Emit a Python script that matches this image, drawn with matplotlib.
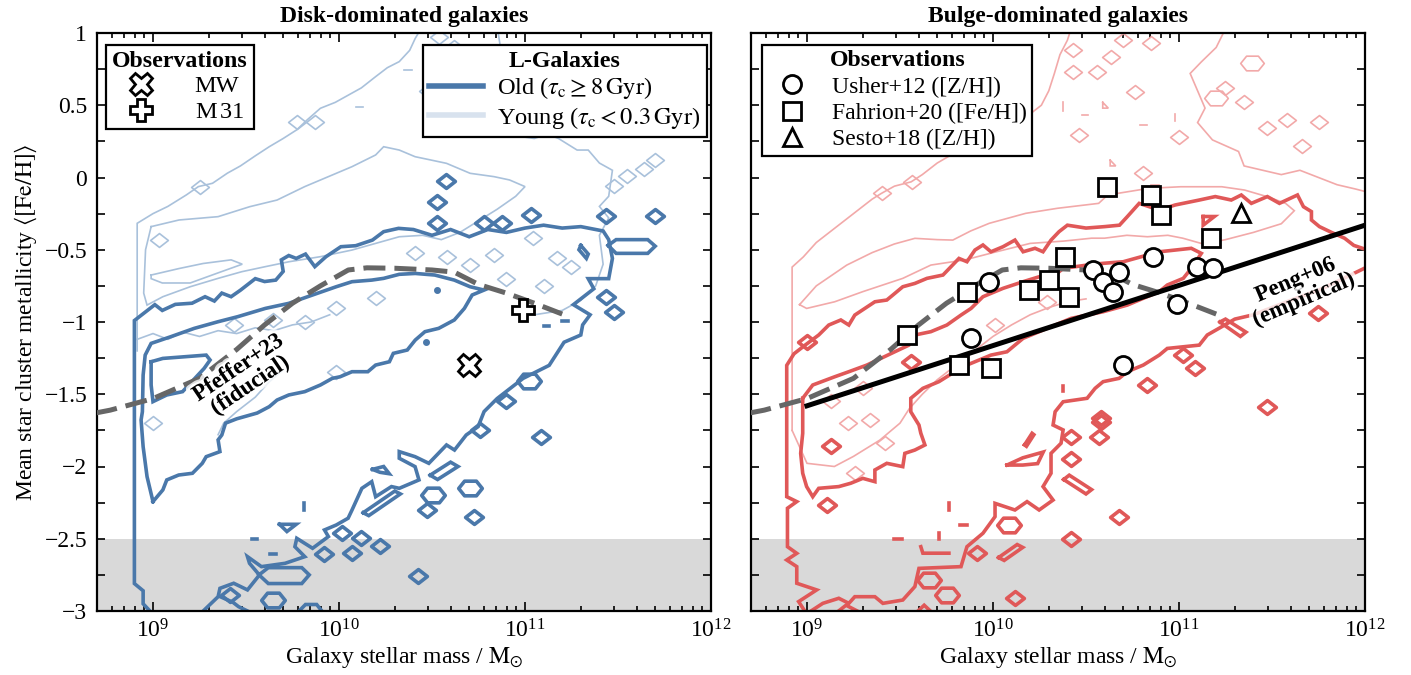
import numpy as np
import matplotlib
matplotlib.use("Agg")
import matplotlib.pyplot as plt
from matplotlib.path import Path
from matplotlib.lines import Line2D
from matplotlib.ticker import MultipleLocator, FuncFormatter, LogLocator
import matplotlib.patheffects as pe

plt.rcParams['font.family'] = ['Liberation Serif', 'DejaVu Serif']
plt.rcParams['mathtext.fontset'] = 'stix'
plt.rcParams['font.size'] = 8

# ---------------- data (log10 M*, <[Fe/H]>) ----------------
pfeffer_logm = [8.69, 8.77, 9.0, 9.25, 9.45, 9.6, 9.75, 9.9, 10.05, 10.15, 10.3, 10.5, 10.62, 10.75, 10.9, 11.05, 11.2]
pfeffer_feh = [-1.63, -1.61, -1.53, -1.39, -1.19, -1.02, -0.87, -0.75, -0.64, -0.625, -0.628, -0.64, -0.655, -0.74, -0.80, -0.87, -0.945]

peng_logm = [9.0, 12.0]
peng_feh = [-1.58, -0.33]

mw_logm, mw_feh = [10.70], [-1.30]
m31_logm, m31_feh = [10.99], [-0.92]

usher_logm = [9.978, 9.882, 10.538, 10.592, 10.646, 10.678, 10.862, 10.991, 11.098, 11.185, 10.70]
usher_feh = [-0.721, -1.113, -0.64, -0.721, -0.79, -0.652, -0.548, -0.876, -0.617, -0.629, -1.298]
fahrion_logm = [9.86, 9.537, 9.817, 9.989, 10.194, 10.302, 10.388, 10.409, 11.174, 10.614, 10.851, 10.905]
fahrion_feh = [-0.79, -1.09, -1.298, -1.321, -0.779, -0.71, -0.548, -0.825, -0.421, -0.063, -0.121, -0.259]
sesto_logm, sesto_feh = [11.335], [-0.243]

# disk-dominated, old clusters (thick contours)
disk_old_outer = [(8.998, -3.02), (8.947, -2.95), (8.947, -2.86), (8.90, -2.81), (8.90, -0.99),
    (9.01, -0.88), (9.05, -0.92), (9.12, -0.878), (9.21, -0.87), (9.28, -0.825), (9.33, -0.855),
    (9.37, -0.80), (9.42, -0.825), (9.47, -0.78), (9.55, -0.70), (9.60, -0.72), (9.66, -0.71),
    (9.70, -0.65), (9.69, -0.57), (9.73, -0.54), (9.77, -0.56), (9.82, -0.53), (9.87, -0.617),
    (9.93, -0.548), (10.01, -0.479), (10.09, -0.472), (10.18, -0.433), (10.24, -0.375),
    (10.32, -0.352), (10.40, -0.36), (10.50, -0.40), (10.60, -0.36), (10.70, -0.41), (10.80, -0.36),
    (10.90, -0.38), (11.0, -0.35), (11.1, -0.33), (11.2, -0.35), (11.3, -0.34), (11.42, -0.37),
    (11.45, -0.43), (11.47, -0.56), (11.45, -0.70), (11.34, -0.70), (11.37, -0.77), (11.26, -0.88),
    (11.35, -0.95), (11.31, -1.02), (11.30, -1.09), (11.21, -1.14), (11.17, -1.22), (11.13, -1.30),
    (10.99, -1.39), (10.85, -1.53), (10.78, -1.62), (10.748, -1.724), (10.684, -1.782),
    (10.621, -1.886), (10.578, -1.851), (10.483, -1.978), (10.409, -1.932), (10.324, -1.897),
    (10.324, -1.943), (10.409, -2.001), (10.43, -2.093), (10.324, -2.151), (10.282, -2.139),
    (10.197, -2.209), (10.176, -2.105), (10.123, -2.151), (10.07, -2.301), (10.049, -2.358),
    (9.985, -2.405), (9.922, -2.439), (9.943, -2.485), (9.858, -2.566), (9.773, -2.497),
    (9.763, -2.555), (9.816, -2.624), (9.71, -2.67), (9.583, -2.693), (9.508, -2.624),
    (9.519, -2.67), (9.572, -2.751), (9.508, -2.854), (9.434, -2.808), (9.36, -2.843),
    (9.35, -2.901), (9.254, -3.02)]
disk_old_inner = [(9.0, -2.243), (8.968, -2.07), (8.947, -1.863), (8.936, -1.678), (8.943, -1.621),
    (8.947, -1.367), (8.958, -1.229), (8.99, -1.148), (9.095, -1.102), (9.222, -1.044), (9.35, -0.998),
    (9.456, -0.963), (9.604, -0.906), (9.73, -0.871), (9.858, -0.813), (9.985, -0.756), (10.07, -0.721),
    (10.176, -0.71), (10.24, -0.698), (10.324, -0.67), (10.41, -0.664), (10.515, -0.675), (10.62, -0.71),
    (10.705, -0.756), (10.78, -0.779), (10.716, -0.813), (10.674, -0.906), (10.62, -0.986),
    (10.536, -1.044), (10.462, -1.067), (10.41, -1.125), (10.367, -1.194), (10.292, -1.217),
    (10.271, -1.275), (10.197, -1.298), (10.155, -1.344), (10.07, -1.344), (10.006, -1.379),
    (9.964, -1.39), (9.90, -1.436), (9.816, -1.482), (9.73, -1.505), (9.667, -1.54), (9.625, -1.586),
    (9.56, -1.63), (9.45, -1.67), (9.39, -1.70), (9.37, -1.782), (9.35, -1.816), (9.36, -1.897),
    (9.286, -1.932), (9.265, -1.978), (9.212, -2.047), (9.138, -2.059), (9.074, -2.093),
    (9.053, -2.162), (9.0, -2.243)]
disk_old_core = [(8.99, -1.275), (9.053, -1.252), (9.286, -1.229), (9.307, -1.263), (9.275, -1.321),
    (9.159, -1.482), (9.074, -1.505), (9.0, -1.551), (8.99, -1.436), (8.99, -1.275)]
disk_old_pieces = [
    [(11.447, -0.47), (11.49, -0.43), (11.66, -0.43), (11.70, -0.475), (11.66, -0.525), (11.49, -0.525), (11.447, -0.47)],
    [(9.57, -2.75), (9.62, -2.70), (9.80, -2.70), (9.84, -2.75), (9.80, -2.81), (9.62, -2.81), (9.57, -2.75)],
    [(10.13, -2.32), (10.30, -2.17), (10.33, -2.19), (10.16, -2.34), (10.13, -2.32)],
    [(10.49, -2.06), (10.60, -1.97), (10.64, -2.00), (10.53, -2.09), (10.49, -2.06)],
    [(10.18, -2.02), (10.24, -2.00), (10.27, -2.05), (10.22, -2.04), (10.18, -2.02)],
    [(9.68, -2.40), (9.77, -2.40), (9.72, -2.45), (9.68, -2.40)],
    [(11.30, -0.47), (11.34, -0.53), (11.33, -0.56), (11.29, -0.50), (11.30, -0.47)],
    [(9.77, -3.02), (9.82, -2.955), (9.88, -2.955), (9.92, -3.02)],
    [(9.36, -2.90), (9.43, -2.94), (9.46, -2.97), (9.54, -3.02)],
    [(9.53, -2.50), (9.56, -2.50)], [(9.63, -2.605), (9.66, -2.605)], [(9.81, -2.25), (9.81, -2.30)],
    [(11.20, -0.99), (11.23, -0.99)], [(11.10, -1.03), (11.13, -1.03)]]
disk_old_diamonds = [(10.574, -0.022), (10.525, -0.172), (10.525, -0.312), (10.78, -0.317),
    (10.875, -0.317), (11.034, -0.259), (11.436, -0.264), (11.70, -0.264), (11.436, -0.825),
    (11.48, -0.93), (11.087, -1.793), (10.472, -2.301), (10.727, -2.352), (10.017, -2.458),
    (10.117, -2.497), (10.218, -2.55), (9.917, -2.605), (10.07, -2.60), (10.426, -2.755),
    (9.413, -2.889), (10.76, -1.75), (10.90, -1.55)]
disk_old_hexagons = [(10.705, -2.151), (10.504, -2.197), (9.646, -2.924), (11.02, -1.41)]
disk_old_dots = [(10.525, -0.78), (10.47, -1.136)]

# disk-dominated, young clusters (thin contours)
disk_young_lines = [
    [(8.915, -1.20), (8.915, -0.317), (9.0, -0.25), (9.08, -0.20), (9.18, -0.12), (9.244, -0.063),
     (9.32, -0.04), (9.40, 0.03), (9.47, 0.08), (9.55, 0.15), (9.625, 0.213), (9.70, 0.27), (9.773, 0.33),
     (9.83, 0.40), (9.90, 0.479), (9.98, 0.52), (10.05, 0.57), (10.12, 0.62), (10.197, 0.698),
     (10.26, 0.76), (10.324, 0.802), (10.38, 0.88), (10.41, 0.963), (10.45, 1.05)],
    [(10.85, 1.05), (10.88, 0.8), (10.92, 0.55), (10.96, 0.38), (10.98, 0.283), (11.05, 0.27),
     (11.12, 0.30), (11.18, 0.27), (11.28, 0.19), (11.34, 0.19), (11.40, 0.10), (11.47, 0.05),
     (11.45, -0.13), (11.40, -0.20), (11.45, -0.28), (11.40, -0.40), (11.42, -0.60), (11.38, -0.75),
     (11.30, -0.85), (11.20, -0.92), (11.05, -0.95)],
    [(8.99, -0.34), (9.14, -0.294), (9.35, -0.271), (9.52, -0.202), (9.667, -0.156), (9.816, -0.063),
     (9.943, 0.006), (10.07, 0.075), (10.197, 0.156), (10.24, 0.213), (10.324, 0.19), (10.409, 0.144),
     (10.494, 0.121), (10.578, 0.098), (10.705, 0.029), (10.833, 0.006), (10.917, -0.017), (11.0, -0.063),
     (10.95, -0.13), (10.85, -0.22), (10.75, -0.30), (10.65, -0.38), (10.55, -0.43), (10.45, -0.40),
     (10.324, -0.41), (10.197, -0.456), (10.07, -0.502), (9.90, -0.548), (9.731, -0.583), (9.604, -0.617),
     (9.477, -0.652), (9.35, -0.698), (9.20, -0.756), (9.053, -0.825), (8.968, -0.883), (8.95, -0.80),
     (8.96, -0.50), (8.99, -0.34)],
    [(8.99, -0.675), (9.14, -0.63), (9.27, -0.595), (9.42, -0.57), (9.48, -0.60), (9.35, -0.66),
     (9.20, -0.73), (9.05, -0.73), (8.99, -0.70), (8.99, -0.675)],
    [(8.915, -1.12), (9.0, -1.08), (9.08, -1.12), (9.16, -1.07), (9.25, -1.10), (9.35, -1.06),
     (9.45, -1.08), (9.55, -1.04), (9.65, -1.06), (9.75, -1.02), (9.85, -1.0), (9.95, -0.95)],
    [(9.35, -1.78), (9.38, -1.70), (9.45, -1.62), (9.55, -1.52), (9.62, -1.42), (9.70, -1.33)],
    [(10.09, 0.486), (10.13, 0.486)], [(10.35, 0.744), (10.39, 0.744)]]
disk_young_diamonds = [(11.045, -0.42), (10.833, -0.537), (10.705, -0.606), (10.58, -0.55),
    (11.17, -0.56), (10.41, -0.525), (11.48, -0.06), (11.55, 0.01), (11.64, 0.06), (11.70, 0.12),
    (10.536, 0.975), (10.62, 0.905), (9.773, 0.386), (9.869, 0.386), (9.254, -0.063), (9.03, -0.43),
    (9.0, -1.70), (9.434, -1.021), (9.646, -0.986), (9.816, -0.998), (9.985, -0.906), (10.197, -0.836),
    (9.985, -1.344), (10.48, 0.60), (10.60, 0.50), (11.10, -0.75), (11.25, -0.62), (10.90, -0.70)]

# bulge-dominated, old clusters (thick contours)
bulge_old_outer = [(8.998, -3.02), (8.955, -2.935), (9.052, -2.854), (8.945, -2.808), (8.945, -2.693),
    (8.891, -2.647), (8.945, -2.601), (8.895, -2.555), (8.895, -2.289), (8.945, -2.243), (8.891, -2.209),
    (8.891, -1.30), (8.93, -1.22), (8.99, -1.16), (9.063, -1.09), (9.117, -1.021), (9.182, -0.986),
    (9.225, -1.021), (9.257, -0.952), (9.365, -0.86), (9.429, -0.848), (9.462, -0.813), (9.515, -0.756),
    (9.58, -0.733), (9.645, -0.698), (9.731, -0.675), (9.817, -0.56), (9.86, -0.583), (9.903, -0.502),
    (9.946, -0.467), (9.989, -0.514), (10.054, -0.479), (10.118, -0.433), (10.162, -0.514),
    (10.226, -0.49), (10.269, -0.514), (10.312, -0.433), (10.355, -0.375), (10.40, -0.33),
    (10.50, -0.35), (10.60, -0.34), (10.68, -0.33), (10.722, -0.271), (10.786, -0.179),
    (10.894, -0.225), (10.98, -0.19), (11.109, -0.156), (11.195, -0.132), (11.281, -0.156),
    (11.335, -0.121), (11.389, -0.179), (11.475, -0.132), (11.54, -0.179), (11.637, -0.121),
    (11.669, -0.202), (11.712, -0.236), (11.712, -0.294), (11.755, -0.34), (11.82, -0.38),
    (11.89, -0.42), (11.94, -0.47), (12.01, -0.50)]
bulge_old_lower = [(12.01, -0.62), (11.93, -0.67), (11.85, -0.72), (11.75, -0.78), (11.62, -0.84),
    (11.50, -0.90), (11.40, -0.95), (11.30, -0.98), (11.22, -1.04), (11.152, -1.09), (11.109, -1.16),
    (10.937, -1.183), (10.894, -1.229), (10.808, -1.298), (10.722, -1.344), (10.678, -1.39),
    (10.592, -1.413), (10.549, -1.459), (10.506, -1.528), (10.377, -1.552), (10.334, -1.621),
    (10.323, -1.713), (10.377, -1.747), (10.366, -1.839), (10.312, -1.909), (10.312, -2.047),
    (10.269, -2.139), (10.323, -2.232), (10.248, -2.301), (10.183, -2.243), (10.118, -2.301),
    (10.011, -2.255), (10.011, -2.347), (9.946, -2.462), (9.86, -2.555), (9.828, -2.693),
    (9.602, -2.705), (9.58, -2.831), (9.515, -2.924), (9.408, -2.947), (9.365, -2.901),
    (9.257, -2.901), (9.225, -2.947), (9.171, -2.912), (9.085, -2.947), (8.998, -3.02)]
bulge_old_inner = [(8.977, -1.528), (9.031, -1.436), (9.149, -1.379), (9.225, -1.344), (9.322, -1.298),
    (9.397, -1.252), (9.472, -1.206), (9.548, -1.16), (9.58, -1.09), (9.666, -1.067), (9.752, -1.021),
    (9.828, -0.952), (9.882, -0.906), (9.946, -0.825), (10.054, -0.767), (10.162, -0.721),
    (10.248, -0.687), (10.334, -0.675), (10.377, -0.629), (10.506, -0.606), (10.592, -0.594),
    (10.70, -0.583), (10.829, -0.537), (10.894, -0.514), (10.98, -0.502), (11.066, -0.49),
    (11.12, -0.525), (11.066, -0.629), (11.023, -0.698), (10.937, -0.744), (10.894, -0.79),
    (10.808, -0.836), (10.722, -0.883), (10.592, -0.929), (10.506, -0.952), (10.42, -0.975),
    (10.334, -1.021), (10.248, -1.067), (10.162, -1.113), (10.118, -1.16), (10.075, -1.206),
    (9.989, -1.229), (9.86, -1.298), (9.795, -1.344), (9.709, -1.413), (9.623, -1.459),
    (9.558, -1.528), (9.558, -1.621), (9.602, -1.713), (9.612, -1.77), (9.634, -1.851), (9.58, -1.886),
    (9.526, -1.909), (9.515, -2.001), (9.429, -1.978), (9.365, -2.024), (9.365, -2.105), (9.30, -2.082),
    (9.235, -2.116), (9.171, -2.139), (9.063, -2.151), (9.031, -2.209), (8.998, -2.139),
    (8.977, -2.047), (8.966, -1.909), (8.977, -1.77), (8.977, -1.528)]
bulge_old_pieces = [
    [(10.38, -2.09), (10.41, -2.06), (10.53, -2.16), (10.50, -2.19), (10.38, -2.09)],
    [(10.03, -2.63), (10.13, -2.54), (10.16, -2.56), (10.06, -2.65), (10.03, -2.63)],
    [(10.17, -1.85), (10.21, -1.77), (10.22, -1.78), (10.18, -1.86), (10.17, -1.85)],
    [(10.075, -1.99), (10.16, -1.94), (10.27, -1.90), (10.24, -1.98), (10.16, -1.99), (10.075, -1.99)],
    [(9.612, -2.555), (9.623, -2.60), (9.763, -2.60)],
    [(11.22, -1.00), (11.25, -0.98), (11.36, -1.07), (11.33, -1.10), (11.22, -1.00)],
    [(11.13, -0.27), (11.19, -0.27), (11.13, -0.33), (11.13, -0.27)],
    [(9.58, -3.02), (9.63, -2.96), (9.68, -3.02)], [(9.15, -3.02), (9.21, -2.96), (9.30, -3.02)],
    [(9.763, -2.25), (9.763, -2.30)], [(9.82, -2.405), (9.86, -2.405)], [(9.709, -2.46), (9.709, -2.50)],
    [(9.47, -2.501), (9.51, -2.501)], [(10.377, -1.44), (10.377, -1.48)]]
bulge_old_diamonds = [(10.42, -1.793), (10.571, -1.793), (10.582, -1.69), (10.42, -1.95),
    (10.678, -2.347), (10.42, -2.504), (9.914, -2.601), (10.118, -2.912), (11.023, -1.229),
    (11.088, -1.321), (10.829, -1.436), (11.475, -1.586), (11.745, -0.94), (8.998, -1.136),
    (10.58, -1.667), (9.13, -1.86), (9.106, -2.266), (9.56, -1.28)]
bulge_old_hexagons = [(10.086, -2.405), (9.752, -2.889), (9.656, -2.785)]

# bulge-dominated, young clusters (thin contours)
bulge_young_lines = [
    [(8.92, -1.75), (8.92, -0.62), (8.98, -0.55), (9.05, -0.45), (9.12, -0.38), (9.20, -0.30),
     (9.28, -0.22), (9.35, -0.15), (9.40, -0.11), (9.47, -0.06), (9.56, -0.03), (9.62, 0.02),
     (9.70, 0.10), (9.78, 0.16), (9.85, 0.22), (9.95, 0.30), (10.1, 0.40), (10.21, 0.45), (10.26, 0.50),
     (10.30, 0.60), (10.33, 0.72), (10.36, 0.85), (10.40, 0.95), (10.42, 1.03)],
    [(11.25, 1.03), (11.20, 0.90), (11.12, 0.80), (11.06, 0.72), (11.10, 0.60), (11.14, 0.48),
     (11.10, 0.38), (11.18, 0.26), (11.25, 0.22), (11.32, 0.18), (11.35, 0.08), (11.45, 0.05),
     (11.55, 0.02), (11.65, 0.05), (11.75, 0.0), (11.85, -0.05), (11.95, -0.08), (12.01, -0.10)],
    [(8.92, -1.75), (9.0, -1.978), (9.147, -2.0), (9.25, -1.93), (9.392, -1.817), (9.5, -1.70),
     (9.55, -1.60), (9.62, -1.50), (9.70, -1.40), (9.80, -1.30), (9.90, -1.20), (10.0, -1.10),
     (10.1, -1.02), (10.2, -0.95), (10.3, -0.90), (10.4, -0.86), (10.5, -0.84)],
    [(8.96, -0.88), (9.05, -0.75), (9.214, -0.606), (9.35, -0.52), (9.47, -0.46), (9.58, -0.421),
     (9.70, -0.43), (9.784, -0.433), (9.88, -0.37), (9.98, -0.317), (10.176, -0.248), (10.347, -0.213),
     (10.568, -0.179), (10.617, -0.121), (10.837, -0.075), (11.009, -0.064), (11.23, -0.064),
     (11.353, -0.087), (11.475, -0.133), (11.573, -0.179), (11.62, -0.23), (11.55, -0.32),
     (11.40, -0.38), (11.25, -0.43), (11.13, -0.46), (11.02, -0.42), (10.94, -0.40), (10.83, -0.41),
     (10.72, -0.40), (10.60, -0.42), (10.53, -0.42), (10.38, -0.44), (10.20, -0.456), (10.0, -0.52),
     (9.85, -0.57), (9.666, -0.606), (9.515, -0.698), (9.30, -0.79), (9.149, -0.86), (8.998, -0.906),
     (8.96, -0.88)],
    [(10.377, 0.46), (10.377, 0.52)], [(10.48, 0.43), (10.51, 0.43)], [(10.98, 0.39), (10.98, 0.44)],
    [(10.79, 0.363), (10.83, 0.363)], [(10.85, -0.05), (10.89, -0.05)],
    [(10.59, 0.52), (10.62, 0.48), (10.59, 0.48), (10.59, 0.52)],
    [(10.63, 0.12), (10.66, 0.08), (10.63, 0.08), (10.63, 0.12)]]
bulge_young_diamonds = [(9.34, -1.68), (9.417, -1.84), (9.257, -2.047), (9.404, -0.109), (9.562, -0.029),
    (10.011, -1.021), (10.29, -0.86), (10.431, 0.882), (10.431, 0.733), (10.56, 0.733), (10.635, 0.836),
    (10.70, 0.95), (10.85, 0.93), (11.755, 0.386), (11.475, 0.34), (11.58, 0.40), (10.463, 0.294),
    (10.765, 0.594), (10.808, 0.029), (11.0, 0.283), (9.13, -1.55), (9.22, -1.70), (9.30, -1.46),
    (11.25, 0.62), (11.35, 0.52), (11.66, 0.22)]
bulge_young_hexagons = [(11.39, 0.79), (11.20, 0.55)]

# ---------------- style ----------------
blue_old, blue_young, blue_leg = '#4a78aa', '#a9c1db', '#d8e2ee'
red_old, red_young = '#e05858', '#f2a9a9'
lw_old, lw_young = 1.3, 0.6

diamond = Path([(-1, 0), (0, 0.78), (1, 0), (0, -0.78), (-1, 0)],
               [Path.MOVETO, Path.LINETO, Path.LINETO, Path.LINETO, Path.CLOSEPOLY])
hexagon = Path([(-1, 0), (-0.5, 0.62), (0.5, 0.62), (1, 0), (0.5, -0.62), (-0.5, -0.62), (-1, 0)],
               [Path.MOVETO] + [Path.LINETO] * 5 + [Path.CLOSEPOLY])


def line(ax, pts, **kw):
    x, y = zip(*pts)
    ax.plot(10 ** np.array(x), y, solid_joinstyle='miter', **kw)


def islands(ax, pts, marker, size, color, lw):
    x, y = zip(*pts)
    ax.plot(10 ** np.array(x), y, ls='none', marker=marker, ms=size, mfc='none',
            mec=color, mew=lw, zorder=2)


fig = plt.figure(figsize=(7.055, 3.375), dpi=200)
ax1 = fig.add_axes([97 / 1411, 64 / 675, 614 / 1411, 578 / 675])
ax2 = fig.add_axes([751 / 1411, 64 / 675, 614 / 1411, 578 / 675])

for ax in (ax1, ax2):
    ax.set_xscale('log')
    ax.set_xlim(5e8, 1e12)
    ax.set_ylim(-3, 1)
    ax.axhspan(-3, -2.5, color='#d9d9d9', lw=0, zorder=0)
    ax.xaxis.set_major_locator(LogLocator(base=10, numticks=10))
    ax.xaxis.set_minor_locator(LogLocator(base=10, subs=np.arange(2, 10), numticks=20))
    ax.yaxis.set_major_locator(MultipleLocator(0.5))
    ax.yaxis.set_minor_locator(MultipleLocator(0.25))
    ax.tick_params(which='both', direction='in', top=True, right=True, width=0.6, labelsize=8.5)
    ax.tick_params(axis='x', which='major', length=3.4, pad=3)
    ax.tick_params(axis='x', which='minor', length=1.9)
    ax.tick_params(axis='y', which='both', length=3.0)
    for s in ax.spines.values():
        s.set_linewidth(0.8)
    ax.set_xlabel(r'Galaxy stellar mass / $\mathrm{M}_{\odot}$', fontsize=8.5, labelpad=1)
    line(ax, list(zip(pfeffer_logm, pfeffer_feh)), color='#666666', lw=1.8,
         ls=(0, (4.4, 1.8)), zorder=3)

ax1.yaxis.set_major_formatter(FuncFormatter(lambda v, p: ('%g' % v).replace('-', '\u2212')))
ax2.tick_params(axis='y', labelleft=False)
ax1.set_ylabel(r'Mean star cluster metallicity $\langle[\mathrm{Fe/H}]\rangle$', fontsize=8.5, labelpad=2)

# ---- disk panel ----
for pts in disk_young_lines:
    line(ax1, pts, color=blue_young, lw=lw_young, zorder=1)
islands(ax1, disk_young_diamonds, diamond, 6.4, blue_young, lw_young)
line(ax1, disk_old_outer, color=blue_old, lw=lw_old, zorder=2)
line(ax1, disk_old_inner, color=blue_old, lw=lw_old, zorder=2)
line(ax1, disk_old_core, color=blue_old, lw=lw_old, zorder=2)
for pts in disk_old_pieces:
    line(ax1, pts, color=blue_old, lw=lw_old, zorder=2)
islands(ax1, disk_old_diamonds, diamond, 6.4, blue_old, lw_old)
islands(ax1, disk_old_hexagons, hexagon, 8.5, blue_old, lw_old)
dx, dy = zip(*disk_old_dots)
ax1.plot(10 ** np.array(dx), dy, ls='none', marker='o', ms=1.5, color=blue_old, zorder=2)

ax1.plot(10 ** np.array(mw_logm), mw_feh, ls='none', marker='X', ms=8, mfc='white', mec='black', mew=1.0, zorder=5)
ax1.plot(10 ** np.array(m31_logm), m31_feh, ls='none', marker='P', ms=8, mfc='white', mec='black', mew=1.0, zorder=5)

ax1.text(10 ** 9.49, -1.38, 'Pfeffer+23\n(fiducial)', rotation=34, ha='center', va='center',
         fontweight='bold', fontsize=8.3, linespacing=1.0, zorder=6,
         path_effects=[pe.withStroke(linewidth=3, foreground='white', alpha=0.8)])
ax1.set_title('Disk-dominated galaxies', fontweight='bold', fontsize=8.5, pad=4)

leg_kw = dict(fancybox=False, edgecolor='black', framealpha=1, fontsize=8.8,
              title_fontproperties={'weight': 'bold', 'size': 8.6},
              borderpad=0.25, labelspacing=0.15, borderaxespad=0)
obs1 = [Line2D([], [], ls='none', marker='X', ms=8, mfc='white', mec='black', mew=1.0),
        Line2D([], [], ls='none', marker='P', ms=8, mfc='white', mec='black', mew=1.0)]
leg1 = ax1.legend(obs1, ['MW', r'M$\,$31'], title='Observations', loc='upper left',
                  bbox_to_anchor=(0.015, 0.98), handletextpad=1.2, **leg_kw)
leg1.get_frame().set_linewidth(0.8)
ax1.add_artist(leg1)
lg = [Line2D([], [], color=blue_old, lw=2.0), Line2D([], [], color=blue_leg, lw=2.0)]
leg2 = ax1.legend(lg, [r'Old ($\tau_{\mathrm{c}} \geq 8\,\mathrm{Gyr}$)',
                       r'Young ($\tau_{\mathrm{c}} < 0.3\,\mathrm{Gyr}$)'],
                  title='L-Galaxies', loc='upper right', bbox_to_anchor=(0.993, 0.98),
                  handlelength=2.2, handletextpad=0.6, **leg_kw)
leg2.get_frame().set_linewidth(0.8)
leg2.set_zorder(7)

# ---- bulge panel ----
for pts in bulge_young_lines:
    line(ax2, pts, color=red_young, lw=lw_young, zorder=1)
islands(ax2, bulge_young_diamonds, diamond, 6.4, red_young, lw_young)
islands(ax2, bulge_young_hexagons, hexagon, 8.5, red_young, lw_young)
line(ax2, bulge_old_outer, color=red_old, lw=lw_old, zorder=2)
line(ax2, bulge_old_lower, color=red_old, lw=lw_old, zorder=2)
line(ax2, bulge_old_inner, color=red_old, lw=lw_old, zorder=2)
for pts in bulge_old_pieces:
    line(ax2, pts, color=red_old, lw=lw_old, zorder=2)
islands(ax2, bulge_old_diamonds, diamond, 6.4, red_old, lw_old)
islands(ax2, bulge_old_hexagons, hexagon, 8.5, red_old, lw_old)

line(ax2, list(zip(peng_logm, peng_feh)), color='black', lw=1.8, zorder=3)
ax2.text(10 ** 11.648, -0.779, 'Peng+06\n(empirical)', rotation=23, ha='center', va='center',
         fontweight='bold', fontsize=8.3, linespacing=1.0, zorder=6,
         path_effects=[pe.withStroke(linewidth=3, foreground='white', alpha=0.8)])

ax2.plot(10 ** np.array(usher_logm), usher_feh, ls='none', marker='o', ms=6.5, mfc='white', mec='black', mew=1.0, zorder=5)
ax2.plot(10 ** np.array(fahrion_logm), fahrion_feh, ls='none', marker='s', ms=6.5, mfc='white', mec='black', mew=1.0, zorder=5)
ax2.plot(10 ** np.array(sesto_logm), sesto_feh, ls='none', marker='^', ms=6.5, mfc='white', mec='black', mew=1.0, zorder=5)
ax2.set_title('Bulge-dominated galaxies', fontweight='bold', fontsize=8.5, pad=4)

obs2 = [Line2D([], [], ls='none', marker=m, ms=6.5, mfc='white', mec='black', mew=1.0) for m in 'os^']
leg3 = ax2.legend(obs2, ['Usher+12 ([Z/H])', 'Fahrion+20 ([Fe/H])', 'Sesto+18 ([Z/H])'],
                  title='Observations', loc='upper left', bbox_to_anchor=(0.018, 0.98),
                  handletextpad=0.7, fontsize=8.5, title_fontproperties={'weight': 'bold', 'size': 8.6},
                  fancybox=False, edgecolor='black', framealpha=1,
                  borderpad=0.25, labelspacing=0.2, borderaxespad=0)
leg3.get_frame().set_linewidth(0.8)
leg3.set_zorder(7)

fig.savefig('out.png', dpi=200)
